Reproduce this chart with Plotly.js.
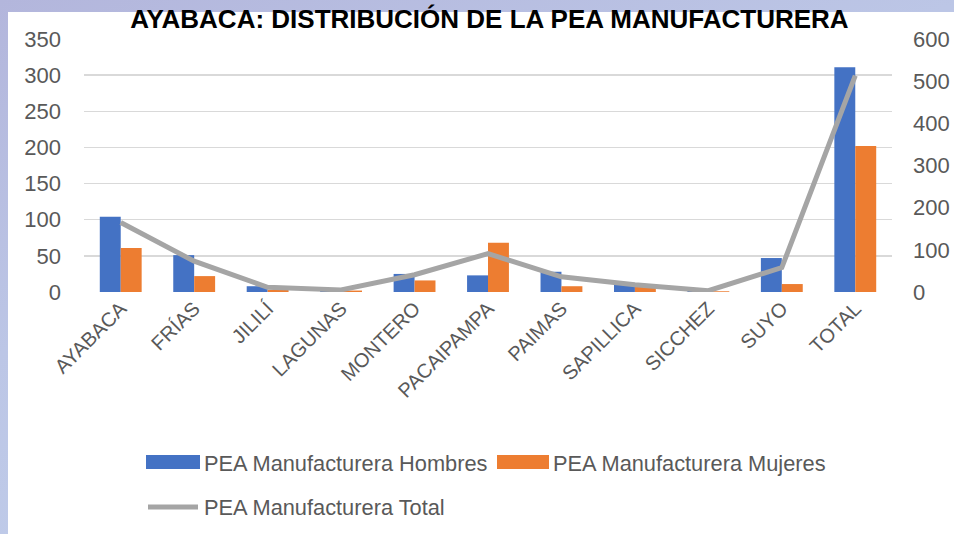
<!DOCTYPE html>
<html>
<head>
<meta charset="utf-8">
<script src="https://cdn.plot.ly/plotly-3.0.1.min.js"></script>
<style>
  html, body { margin: 0; padding: 0; }
  #frame {
    position: relative; width: 954px; height: 534px; overflow: hidden;
    background: linear-gradient(160deg, #b3b6dc 0%, #bcc6e6 40%, #c3d1ec 100%);
  }
  #white { position: absolute; left: 8px; top: 12px; right: 0; bottom: 0; background: #ffffff; }
  #chart { position: absolute; left: 0; top: 0; width: 954px; height: 534px; }
</style>
</head>
<body>
<div id="frame">
  <div id="white"></div>
  <div id="chart"></div>
</div>
<script>
const categories = ["AYABACA", "FRÍAS", "JILILÍ", "LAGUNAS", "MONTERO", "PACAIPAMPA", "PAIMAS", "SAPILLICA", "SICCHEZ", "SUYO", "TOTAL"];
const hombres = [104, 51, 8, 3, 25, 23, 28, 10, 2, 47, 311];
const mujeres = [61, 22, 3, 2, 16, 68, 8, 7, 1, 11, 202];
const total   = [165, 73, 11, 5, 41, 91, 36, 17, 3, 58, 513];
const leftTicks = [0, 50, 100, 150, 200, 250, 300, 350];
const rightTicks = [0, 100, 200, 300, 400, 500, 600];
const seriesNames = ["PEA Manufacturera Hombres", "PEA Manufacturera Mujeres", "PEA Manufacturera Total"];
const titleText = "AYABACA: DISTRIBUCIÓN DE LA PEA MANUFACTURERA";

const FONT = "Liberation Sans, Arial, sans-serif";
const GRAY = "#595959";

const traces = [
  { type: "bar", x: categories, y: hombres, name: seriesNames[0], marker: { color: "#4472c4" }, yaxis: "y" },
  { type: "bar", x: categories, y: mujeres, name: seriesNames[1], marker: { color: "#ed7d31" }, yaxis: "y" },
  { type: "scatter", mode: "lines", x: categories, y: total, name: seriesNames[2], line: { color: "#a5a5a5", width: 5 }, yaxis: "y2" }
];

// custom legend (paper coords relative to plot area: x 84..892, y 39..292)
const pw = 892 - 84, ph = 292 - 39;
const px = v => (v - 84) / pw;
const py = v => (292 - v) / ph;

const shapes = [
  { type: "rect", xref: "paper", yref: "paper", x0: px(146), x1: px(200), y0: py(469), y1: py(455), fillcolor: "#4472c4", line: { width: 0 } },
  { type: "rect", xref: "paper", yref: "paper", x0: px(497), x1: px(549), y0: py(469), y1: py(455), fillcolor: "#ed7d31", line: { width: 0 } },
  { type: "line", xref: "paper", yref: "paper", x0: px(148), x1: px(198), y0: py(507), y1: py(507), line: { color: "#a5a5a5", width: 5, cap: "round" } }
];
const annotations = [
  { xref: "paper", yref: "paper", x: px(202), y: py(463), xanchor: "left", yanchor: "middle", showarrow: false, text: seriesNames[0], font: { family: FONT, size: 21.8, color: GRAY } },
  { xref: "paper", yref: "paper", x: px(551), y: py(463), xanchor: "left", yanchor: "middle", showarrow: false, text: seriesNames[1], font: { family: FONT, size: 21.8, color: GRAY } },
  { xref: "paper", yref: "paper", x: px(202), y: py(507), xanchor: "left", yanchor: "middle", showarrow: false, text: seriesNames[2], font: { family: FONT, size: 21.8, color: GRAY } }
];

const layout = {
  width: 954, height: 534,
  margin: { l: 84, r: 62, t: 39, b: 242 },
  paper_bgcolor: "rgba(0,0,0,0)",
  plot_bgcolor: "rgba(0,0,0,0)",
  showlegend: false,
  barmode: "group",
  bargap: 0.43,
  bargroupgap: 0,
  title: { text: "<b>" + titleText + "</b>", x: 0.513, xanchor: "center", y: 0.965, yref: "container", yanchor: "middle", font: { family: FONT, size: 26, color: "#000000" } },
  xaxis: {
    type: "category", tickangle: -45, showgrid: false, zeroline: false,
    showline: false, ticks: "", tickfont: { family: FONT, size: 20, color: GRAY }
  },
  yaxis: {
    range: [0, 350], tickvals: leftTicks, ticktext: leftTicks.map(String),
    showgrid: true, gridcolor: "#d9d9d9", gridwidth: 1.5, zeroline: false, showline: false, ticks: "",
    ticklabelstandoff: 22, tickfont: { family: FONT, size: 22, color: GRAY }, automargin: false
  },
  yaxis2: {
    overlaying: "y", side: "right", range: [0, 600], tickvals: rightTicks, ticktext: rightTicks.map(String),
    showgrid: false, zeroline: false, showline: false, ticks: "",
    ticklabelstandoff: 20, tickfont: { family: FONT, size: 22, color: GRAY }, automargin: false
  },
  shapes: shapes,
  annotations: annotations,
  font: { family: FONT, color: GRAY }
};

Plotly.newPlot("chart", traces, layout, { displayModeBar: false, staticPlot: true });
</script>
</body>
</html>
